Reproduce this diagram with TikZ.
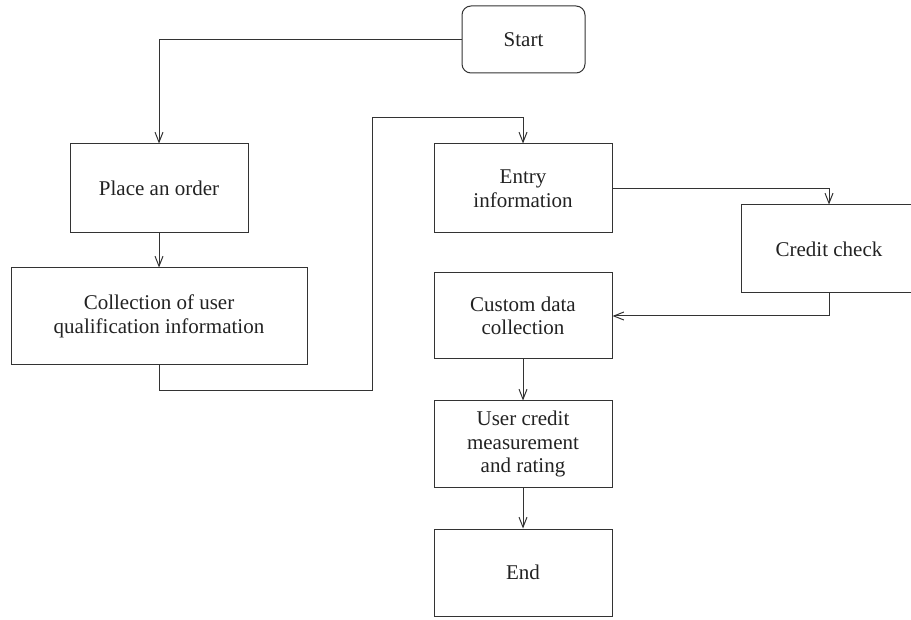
\documentclass[tikz,border=0pt]{standalone}
\usepackage{fontspec}
\setmainfont{Liberation Serif}
\usetikzlibrary{arrows.meta}
\definecolor{linegray}{HTML}{333333}
\definecolor{textgray}{HTML}{222222}
\begin{document}
\begin{tikzpicture}[x=1pt,y=-1pt,
  box/.style={draw=linegray, line width=1pt, align=center, text=textgray,
    font=\fontsize{21}{23.5}\selectfont, inner sep=0pt},
  flow/.style={draw=linegray, line width=1pt,
    -{Straight Barb[length=10pt,width=8pt]}}]
\useasboundingbox (0,0) rectangle (911,620);
\clip (0,0) rectangle (911,620);

% process boxes
\node[box, rounded corners=9pt, minimum width=123pt, minimum height=67pt] (start) at (523.5,39.5) {Start};
\node[box, minimum width=178pt, minimum height=89pt] (order) at (159,188.5) {Place an order};
\node[box, minimum width=296pt, minimum height=97pt] (collect) at (159,316.5) {Collection of user\\qualification information};
\node[box, minimum width=178pt, minimum height=89pt] (entry) at (523,188.5) {Entry\\information};
\node[box, minimum width=176pt, minimum height=88pt] (credit) at (829,249) {Credit check};
\node[box, minimum width=178pt, minimum height=86pt] (custom) at (523,316) {Custom data\\collection};
\node[box, minimum width=178pt, minimum height=86pt] (rating) at (523,444) {User credit\\measurement\\and rating};
\node[box, minimum width=178pt, minimum height=87pt] (end) at (523,572.5) {End};

% bends of the long connector
\coordinate (c1) at (372,391);
\coordinate (c2) at (372,118);

% connectors
\draw[flow] (start.west) -| (order.north);
\draw[flow] (order.south) -- (collect.north);
\draw[flow] (collect.south) |- (c1) -- (c2) -| (entry.north);
\draw[flow] (entry.east) -| (credit.north);
\draw[flow] (credit.south) |- (custom.east);
\draw[flow] (custom.south) -- (rating.north);
\draw[flow] (rating.south) -- (end.north);
\end{tikzpicture}
\end{document}
